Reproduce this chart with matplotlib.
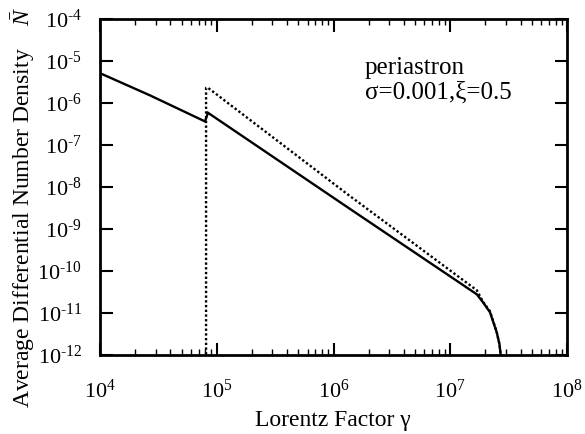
import matplotlib
matplotlib.use('Agg')
import matplotlib.pyplot as plt
from matplotlib.ticker import LogLocator, NullFormatter, FixedLocator

# values
gamma_solid = [1e4, 2.68e4, 7.93e4, 8.41e4, 1.33e6,
               1.69e7, 1.91e7, 2.19e7, 2.50e7, 2.64e7, 2.78e7]
N_solid = [5.13e-6, 1.52e-6, 3.64e-7, 5.85e-7, 3.24e-9,
           2.78e-11, 1.79e-11, 1.04e-11, 3.48e-12, 1.81e-12, 5e-13]

gamma_dot = [8.1e4, 8.1e4, 8.41e4, 1.33e6, 1.69e7, 1.91e7, 2.19e7, 2.50e7, 2.64e7, 2.78e7]
N_dot = [1e-13, 2.30e-6, 2.30e-6, 6.6e-9, 3.47e-11, 1.85e-11, 1.1e-11, 3.5e-12, 1.81e-12, 5e-13]

x_decades = [4, 5, 6, 7, 8]
y_decades = [-4, -5, -6, -7, -8, -9, -10, -11, -12]

plt.rcParams['font.family'] = 'Liberation Serif'
plt.rcParams['mathtext.fontset'] = 'custom'
plt.rcParams['mathtext.rm'] = 'Liberation Serif'
plt.rcParams['mathtext.it'] = 'Liberation Serif:italic'

fig = plt.figure(figsize=(5.85, 4.34), dpi=100)
ax = fig.add_axes([100 / 585, 79 / 434, 467 / 585, 336 / 434])

ax.plot(gamma_solid, N_solid, color='black', lw=1.7, solid_joinstyle='miter')
ax.plot(gamma_dot, N_dot, color='black', lw=1.7, linestyle=(0, (1, 1)))

ax.set_xscale('log')
ax.set_yscale('log')
ax.set_xlim(1e4, 1e8)
ax.set_ylim(1e-12, 1e-4)

ax.xaxis.set_major_locator(FixedLocator([10.0 ** d for d in x_decades]))
ax.xaxis.set_minor_locator(LogLocator(base=10, subs=range(2, 10), numticks=20))
ax.xaxis.set_minor_formatter(NullFormatter())
ax.set_xticklabels([r'$\mathregular{10^{%d}}$' % d for d in x_decades])
ax.yaxis.set_major_locator(FixedLocator([10.0 ** d for d in y_decades]))
ax.yaxis.set_minor_locator(FixedLocator([]))
ax.set_yticklabels([r'$\mathregular{10^{\text{-}%d}}$' % abs(d) for d in y_decades])

ax.tick_params(which='major', direction='in', length=9, width=1.5,
               top=True, right=True, labelsize=16)
ax.tick_params(axis='x', which='major', pad=18)
ax.tick_params(axis='y', which='major', pad=13)
ax.tick_params(which='minor', direction='in', length=4, width=1.0, top=True, right=True)
for s in ax.spines.values():
    s.set_linewidth(2)

fig.text(333 / 585, 1 - 426 / 434, 'Lorentz Factor γ', ha='center', va='baseline', fontsize=17)
fig.text(23 / 585, 1 - 207 / 434, r'Average Differential Number Density    $\bar{N}$',
         rotation=90, ha='center', va='center', fontsize=17)

fig.text(365 / 585, 1 - 68 / 434, 'periastron', ha='left', va='center', fontsize=18)
fig.text(365 / 585, 1 - 93 / 434, 'σ=0.001,ξ=0.5', ha='left', va='center', fontsize=18)

fig.savefig('out.png', dpi=100)
